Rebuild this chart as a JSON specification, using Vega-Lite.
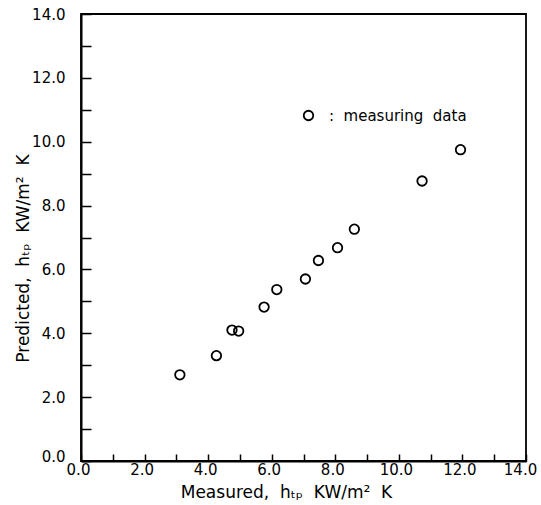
{
  "$schema": "https://vega.github.io/schema/vega-lite/v6.json",
  "width": 445,
  "height": 447,
  "autosize": {"type": "none"},
  "padding": {"left": 81, "top": 14, "right": 15, "bottom": 44},
  "background": "white",
  "config": {
    "view": {"stroke": "black", "strokeWidth": 1.8},
    "font": "DejaVu Sans"
  },
  "data": {
    "values": [
      {"measured": 3.11, "predicted": 2.70, "series": "measuring\u00a0\u00a0data"},
      {"measured": 4.26, "predicted": 3.30, "series": "measuring\u00a0\u00a0data"},
      {"measured": 4.75, "predicted": 4.10, "series": "measuring\u00a0\u00a0data"},
      {"measured": 4.96, "predicted": 4.07, "series": "measuring\u00a0\u00a0data"},
      {"measured": 5.76, "predicted": 4.82, "series": "measuring\u00a0\u00a0data"},
      {"measured": 6.16, "predicted": 5.37, "series": "measuring\u00a0\u00a0data"},
      {"measured": 7.06, "predicted": 5.70, "series": "measuring\u00a0\u00a0data"},
      {"measured": 7.47, "predicted": 6.28, "series": "measuring\u00a0\u00a0data"},
      {"measured": 8.07, "predicted": 6.68, "series": "measuring\u00a0\u00a0data"},
      {"measured": 8.60, "predicted": 7.26, "series": "measuring\u00a0\u00a0data"},
      {"measured": 10.73, "predicted": 8.77, "series": "measuring\u00a0\u00a0data"},
      {"measured": 11.94, "predicted": 9.75, "series": "measuring\u00a0\u00a0data"}
    ]
  },
  "mark": {"type": "point", "shape": "circle", "filled": false, "color": "black", "size": 90, "strokeWidth": 1.8, "opacity": 1},
  "encoding": {
    "x": {
      "field": "measured", "type": "quantitative",
      "scale": {"domain": [0, 14], "nice": false},
      "axis": {
        "title": "Measured,\u00a0\u00a0hₜₚ\u00a0\u00a0KW/m²\u00a0\u00a0K",
        "values": [0, 1, 2, 3, 4, 5, 6, 7, 8, 9, 10, 11, 12, 13, 14],
        "labelExpr": "datum.value % 2 === 0 ? format(datum.value, '.1f') : ''",
        "tickSize": -7, "tickColor": "black", "tickWidth": 1.5,
        "domainColor": "black", "domainWidth": 2, "grid": false,
        "labelFontSize": 15, "labelColor": "black", "labelPadding": 8,
        "labelOffset": {"condition": {"test": "datum.value === 14", "value": -6}, "value": -3},
        "labelFlush": false, "labelOverlap": false,
        "titleFontSize": 17, "titleFontWeight": "normal", "titleColor": "black",
        "titleX": 205, "titleY": 36, "titleAlign": "center", "titleBaseline": "alphabetic"
      }
    },
    "y": {
      "field": "predicted", "type": "quantitative",
      "scale": {"domain": [0, 14], "nice": false},
      "axis": {
        "title": "Predicted,\u00a0\u00a0hₜₚ\u00a0\u00a0KW/m²\u00a0\u00a0K",
        "values": [0, 1, 2, 3, 4, 5, 6, 7, 8, 9, 10, 11, 12, 13, 14],
        "labelExpr": "datum.value % 2 === 0 ? format(datum.value, '.1f') : ''",
        "tickSize": -10, "tickColor": "black", "tickWidth": 1.5,
        "domainColor": "black", "domainWidth": 2, "grid": false,
        "labelFontSize": 15, "labelColor": "black", "labelPadding": 26,
        "labelOffset": {"condition": {"test": "datum.value === 0", "value": -5}, "value": 0},
        "labelFlush": false, "labelOverlap": false,
        "titleFontSize": 17, "titleFontWeight": "normal", "titleColor": "black",
        "titleX": -53, "titleY": 244, "titleAlign": "center", "titleBaseline": "alphabetic", "titleAngle": -90
      }
    },
    "shape": {
      "field": "series", "type": "nominal",
      "scale": {"range": ["circle"]},
      "legend": {
        "orient": "none", "legendX": 220, "legendY": 94, "padding": 0,
        "title": null,
        "labelExpr": "':\u00a0\u00a0' + datum.label",
        "labelFontSize": 15, "labelColor": "black", "labelOffset": 13,
        "symbolSize": 90, "symbolStrokeWidth": 1.8, "symbolStrokeColor": "black", "symbolFillColor": "transparent"
      }
    }
  }
}
